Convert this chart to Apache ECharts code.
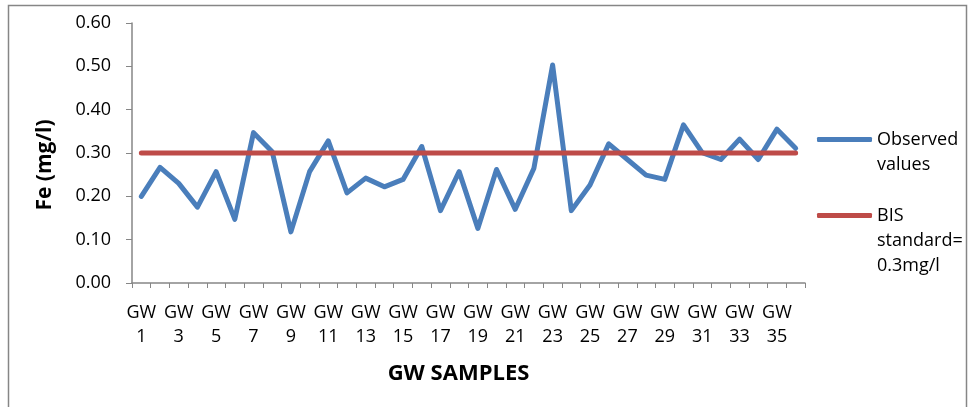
<!DOCTYPE html>
<html>
<head>
<meta charset="utf-8">
<script src="https://cdn.jsdelivr.net/npm/echarts@6/dist/echarts.min.js"></script>
<style>html,body{margin:0;padding:0;background:#fff}#c{width:969px;height:407px}</style>
</head>
<body>
<div id="c"></div>
<script>
var categories = ["GW 1","GW 2","GW 3","GW 4","GW 5","GW 6","GW 7","GW 8","GW 9","GW 10","GW 11","GW 12","GW 13","GW 14","GW 15","GW 16","GW 17","GW 18","GW 19","GW 20","GW 21","GW 22","GW 23","GW 24","GW 25","GW 26","GW 27","GW 28","GW 29","GW 30","GW 31","GW 32","GW 33","GW 34","GW 35","GW 36"];
var observed = [0.20,0.267,0.23,0.175,0.257,0.147,0.347,0.303,0.118,0.257,0.328,0.208,0.242,0.222,0.239,0.315,0.167,0.257,0.126,0.262,0.170,0.265,0.503,0.167,0.226,0.321,0.285,0.249,0.239,0.365,0.301,0.285,0.332,0.285,0.355,0.311];
var bisStandard = [0.3,0.3,0.3,0.3,0.3,0.3,0.3,0.3,0.3,0.3,0.3,0.3,0.3,0.3,0.3,0.3,0.3,0.3,0.3,0.3,0.3,0.3,0.3,0.3,0.3,0.3,0.3,0.3,0.3,0.3,0.3,0.3,0.3,0.3,0.3,0.3];
var seriesNames = ["Observed values", "BIS standard= 0.3mg/l"];
var legendLabels = [["Observed", "values"], ["BIS", "standard=", "0.3mg/l"]];

var FONT = "'Open Sans', sans-serif";
var chart = echarts.init(document.getElementById('c'), null, {renderer: 'canvas'});
function legendCfg(i, top) {
  var lines = legendLabels[i];
  var pad = [];
  for (var k = 1; k < lines.length; k++) pad.push(' ');
  var text = pad.concat(lines).join('\n');
  return {
    left: 817, top: top, orient: 'vertical', padding: 0,
    data: [seriesNames[i]],
    icon: 'roundRect', itemWidth: 55, itemHeight: 5,
    formatter: function () { return text; },
    textStyle: {fontFamily: FONT, fontSize: 18, color: '#000', lineHeight: 25}
  };
}
chart.setOption({
  animation: false,
  backgroundColor: '#fff',
  graphic: [{type: 'rect', shape: {x: 8.5, y: 5.5, width: 958, height: 430}, style: {fill: 'none', stroke: '#868686', lineWidth: 1.5}, silent: true}],
  grid: {left: 132, right: 164, top: 23, bottom: 124},
  legend: [legendCfg(0, 102), legendCfg(1, 153)],
  xAxis: {
    type: 'category', data: categories, boundaryGap: true,
    name: 'GW SAMPLES', nameLocation: 'middle', nameGap: 80,
    nameTextStyle: {fontFamily: FONT, fontSize: 22, fontWeight: 'bold', color: '#000', padding: [0, 20, 0, 0]},
    axisLine: {lineStyle: {color: '#868686', width: 1.5}},
    axisTick: {show: true, length: 5, interval: 0, alignWithLabel: false, lineStyle: {color: '#868686'}},
    axisLabel: {interval: 1, margin: 18, fontFamily: FONT, fontSize: 18, lineHeight: 24, color: '#000',
      formatter: function (v) { return v.replace(' ', '\n'); }}
  },
  yAxis: {
    type: 'value', min: 0, max: 0.6, interval: 0.1,
    name: 'Fe (mg/l)', nameLocation: 'middle', nameGap: 76,
    nameTextStyle: {fontFamily: FONT, fontSize: 21, fontWeight: 'bold', color: '#000', padding: [0, 24, 0, 0]},
    axisLine: {show: true, lineStyle: {color: '#868686', width: 1.5}},
    axisTick: {show: true, length: 6, lineStyle: {color: '#868686'}},
    splitLine: {show: false},
    axisLabel: {margin: 21, fontFamily: FONT, fontSize: 18, color: '#000', formatter: function (v) { return v.toFixed(2); }}
  },
  series: [
    {name: seriesNames[0], type: 'line', data: observed, showSymbol: false, symbol: 'none',
      color: '#4A7EBB', lineStyle: {color: '#4A7EBB', width: 5, cap: 'round', join: 'round'}},
    {name: seriesNames[1], type: 'line', data: bisStandard, showSymbol: false, symbol: 'none',
      color: '#BE4B48', lineStyle: {color: '#BE4B48', width: 5, cap: 'round'}}
  ]
});
</script>
</body>
</html>
